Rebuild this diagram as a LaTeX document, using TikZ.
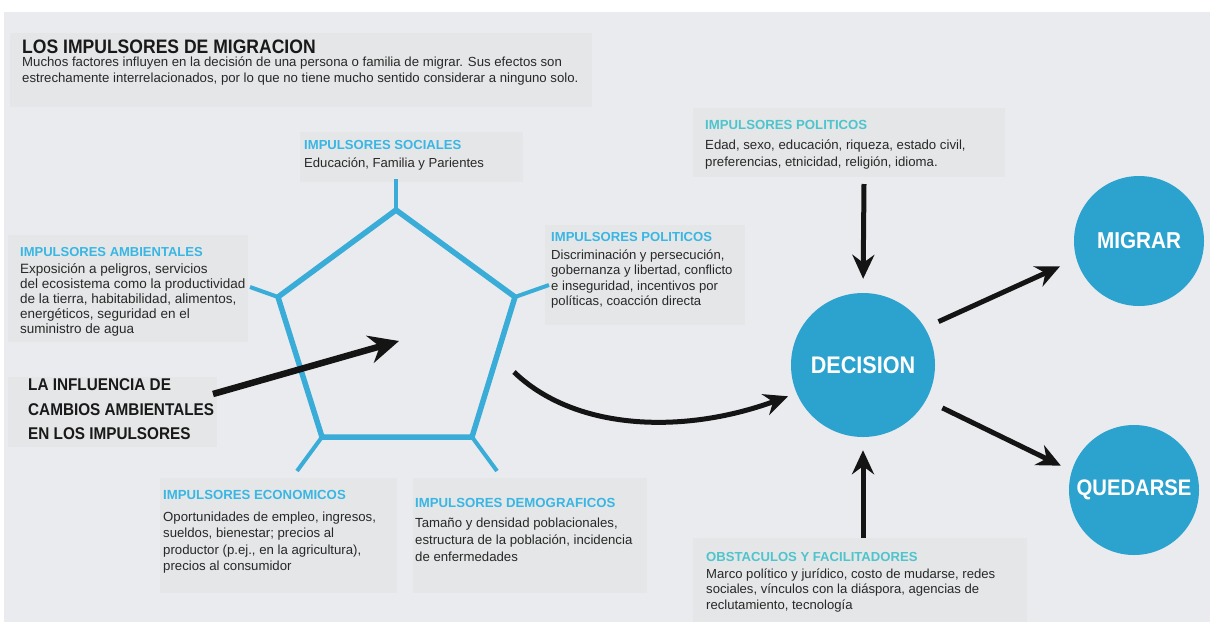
\documentclass[tikz,border=0pt]{standalone}
\usepackage{fontspec}
\setmainfont{Liberation Sans}
\newfontfamily\narrowf{Liberation Sans}[FakeStretch=0.9]
\usetikzlibrary{arrows.meta,calc}
\definecolor{bgc}{RGB}{233,235,238}
\definecolor{boxc}{RGB}{229,230,231}
\definecolor{hdr}{RGB}{56,182,228}
\definecolor{hdrt}{RGB}{78,196,204}
\definecolor{pent}{RGB}{58,172,216}
\definecolor{circ}{RGB}{44,163,207}
\definecolor{txt}{RGB}{40,40,40}
\newcommand\hdline[3][hdr]{{\bfseries\color{#1}#3}\\[#2]}
\begin{document}
\begin{tikzpicture}[x=1pt,y=-1pt,
  panel/.style 2 args={fill=boxc, draw=none, anchor=north west, inner sep=0pt, minimum width=#1pt, minimum height=#2pt},
  body/.style={anchor=north west, inner sep=0pt, align=left, text=txt, font=\fontsize{13.1}{15.5}\selectfont},
  ball/.style={circle, fill=circ, text=white, inner sep=0pt, minimum size=#1pt, font=\narrowf\bfseries\fontsize{23}{23}\selectfont},
  pentline/.style={draw=pent, line width=5.5pt},
  spoke/.style={draw=pent, line width=4pt},
  arr/.style={line width=5pt, draw=black!92, -{Stealth[length=24pt,width=22pt,inset=8pt]}},
  bigarr/.style={line width=6.5pt, draw=black!92, -{Stealth[length=30pt,width=28pt,inset=10pt]}}
]
\useasboundingbox (0,0) rectangle (1210,622);
\fill[white] (0,0) rectangle (1210,622);
\fill[bgc] (4,12) rectangle (1210,622);

% panels
\node[panel={582}{74}] (ptitle) at (10,33) {};
\node[panel={223}{50}] (psoc) at (300,132) {};
\node[panel={240}{107}] (pamb) at (8,235) {};
\node[panel={209}{70}] (pinf) at (8,377) {};
\node[panel={200}{100}] (ppolm) at (545,225) {};
\node[panel={312}{69}] (ppolt) at (693,108) {};
\node[panel={237}{115}] (peco) at (160,478) {};
\node[panel={234}{115}] (pdem) at (413,478) {};
\node[panel={334}{84}] (pobs) at (693,538) {};

% texts
\node[anchor=north west, inner sep=0pt, text=black!90, font=\narrowf\bfseries\fontsize{19.5}{20}\selectfont] (ttl) at (22,40) {LOS IMPULSORES DE MIGRACION};
\node[body, font=\fontsize{13.2}{16}\selectfont] (ttlb) at (22,57) {Muchos factores influyen en la decisión de una persona o familia de migrar. Sus efectos son\\estrechamente interrelacionados, por lo que no tiene mucho sentido considerar a ninguno solo.};

\node[body] (tsoc) at (304,140.5) {\hdline{2pt}{IMPULSORES SOCIALES}Educación, Familia y Parientes};
\node[body, font=\fontsize{13.5}{15}\selectfont] (tamb) at (20,247) {\hdline{2.5pt}{\fontsize{13}{15}\selectfont IMPULSORES AMBIENTALES}Exposición a peligros, servicios\\del ecosistema como la productividad\\de la tierra, habitabilidad, alimentos,\\energéticos, seguridad en el\\suministro de agua};
\node[anchor=north west, inner sep=0pt, align=left, text=black!90, font=\narrowf\bfseries\fontsize{17}{24.5}\selectfont] (tinf) at (28,378.5) {LA INFLUENCIA DE\\CAMBIOS AMBIENTALES\\EN LOS IMPULSORES};
\node[body] (tpolm) at (551,232.5) {\hdline{2pt}{IMPULSORES POLITICOS}Discriminación y persecución,\\gobernanza y libertad, conflicto\\e inseguridad, incentivos por\\políticas, coacción directa};
\node[body, font=\fontsize{13.2}{17}\selectfont] (tpolt) at (705,120.5) {\hdline[hdrt]{2.5pt}{IMPULSORES POLITICOS}Edad, sexo, educación, riqueza, estado civil,\\preferencias, etnicidad, religión, idioma.};
\node[body, font=\fontsize{13.2}{16.5}\selectfont] (teco) at (163,490.5) {\hdline{5pt}{IMPULSORES ECONOMICOS}Oportunidades de empleo, ingresos,\\sueldos, bienestar; precios al\\productor (p.ej., en la agricultura),\\precios al consumidor};
\node[body, font=\fontsize{13.2}{17}\selectfont] (tdem) at (415,498.5) {\hdline{3pt}{IMPULSORES DEMOGRAFICOS}Tamaño y densidad poblacionales,\\estructura de la población, incidencia\\de enfermedades};
\node[body] (tobs) at (706,552.5) {\hdline[hdrt]{1pt}{OBSTACULOS Y FACILITADORES}Marco político y jurídico, costo de mudarse, redes\\sociales, vínculos con la diáspora, agencias de\\reclutamiento, tecnología};

% pentagon
\coordinate (v1) at (396,210);
\coordinate (v2) at (515,297);
\coordinate (v3) at (472,437);
\coordinate (v4) at (322,437);
\coordinate (v5) at (278,297);
\coordinate (s1) at (396,179);
\coordinate (s2) at (549,285);
\coordinate (s3) at (497,471);
\coordinate (s4) at (297,471);
\coordinate (s5) at (250,287);
\draw[spoke] (v1) -- (s1);
\draw[spoke] (v2) -- (s2);
\draw[spoke] (v3) -- (s3);
\draw[spoke] (v4) -- (s4);
\draw[spoke] (v5) -- (s5);
\draw[pentline] (v1) -- (v2) -- (v3) -- (v4) -- (v5) -- cycle;

% circles
\node[ball=144, font=\narrowf\bfseries\fontsize{24}{24}\selectfont] (dec) at (863,365) {DECISION};
\node[ball=130] (mig) at (1139,241) {MIGRAR};
\node[ball=130, font=\narrowf\bfseries\fontsize{22.5}{22.5}\selectfont] (que) at (1134,490) {QUEDARSE};

% arrows
\coordinate (inftail) at (213,394);
\coordinate (inftip) at (399,341);
\draw[bigarr] (inftail) -- (inftip);

\coordinate (ctail) at (514,372);
\draw[arr, shorten >=9pt] (ctail) .. controls +(60,58) and +(-115,42) .. (dec.203);

\coordinate (toptail) at (864,184);
\draw[arr, shorten >=14pt] (toptail) -- (dec.north);
\coordinate (bottail) at (863,538);
\draw[arr, shorten >=13pt] (bottail) -- (dec.south);

\draw[arr, shorten <=15pt, shorten >=18pt] (dec.31) -- (mig.196);
\draw[arr, shorten <=18pt, shorten >=12pt] (dec.331) -- (que.163);
\end{tikzpicture}
\end{document}
